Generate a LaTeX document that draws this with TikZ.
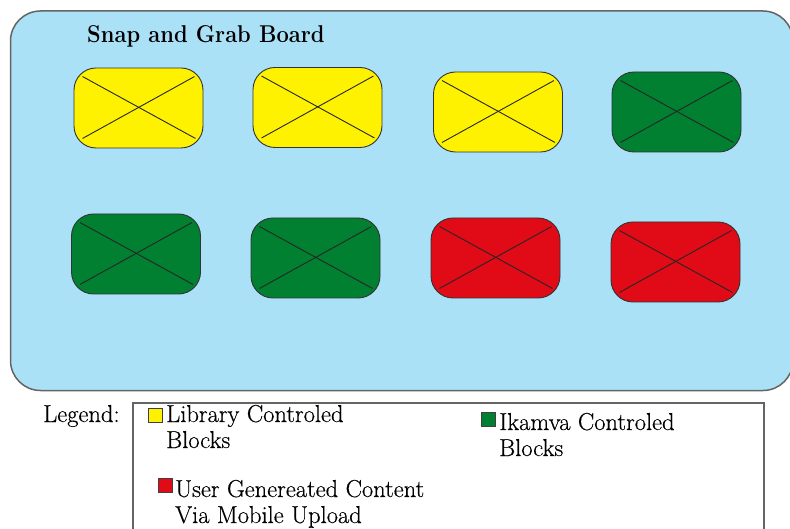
\documentclass[tikz,border=0pt]{standalone}
\usepackage{fontspec}
\setmainfont{Latin Modern Roman}[FakeStretch=0.9]
\newfontfamily\legendfont{Latin Modern Roman}[FakeBold=0.4]
\usetikzlibrary{calc}
\definecolor{boardblue}{RGB}{170,225,247}
\definecolor{libyellow}{RGB}{255,242,0}
\definecolor{ikgreen}{RGB}{0,128,48}
\definecolor{ugcred}{RGB}{225,10,23}
\definecolor{edgegray}{RGB}{100,100,100}
\begin{document}
\begin{tikzpicture}[x=1pt,y=-1pt,
  block/.style={draw=black!80, line width=0.9pt, rounded corners=22pt,
    minimum width=129pt, minimum height=80pt, inner sep=0pt},
  cross/.style={draw=black!85, line width=0.9pt},
  swatch/.style={draw=black!75, line width=0.6pt, minimum size=14pt, inner sep=0pt},
  legtext/.style={anchor=base west, inner sep=0pt, font=\legendfont\fontsize{24.5}{26}\selectfont}]
\useasboundingbox (0,0) rectangle (790,529);

% board background
\node[draw=edgegray, line width=1.5pt, fill=boardblue, rounded corners=30pt,
  minimum width=782.5pt, minimum height=379.5pt, inner sep=0pt] (board) at (401.75,200.75) {};
\node[anchor=base west, inner sep=0pt, font=\rmfamily\bfseries\fontsize{24.3}{30}\selectfont] (title) at (87,43) {Snap and Grab Board};

% blocks, first row
\node[block, fill=libyellow] (y1) at (138.5,108) {};
\node[block, fill=libyellow] (y2) at (317.5,107.5) {};
\node[block, fill=libyellow] (y3) at (498,112) {};
\node[block, fill=ikgreen]   (g1) at (676.5,112) {};
% blocks, second row
\node[block, fill=ikgreen]   (g2) at (136,254) {};
\node[block, fill=ikgreen]   (g3) at (315.5,258) {};
\node[block, fill=ugcred]    (r1) at (495.5,258) {};
\node[block, fill=ugcred]    (r2) at (675.5,262) {};

% crossed-out placeholders
\foreach \n in {y1,y2,y3,g1,g2,g3,r1,r2}{
  \draw[cross] ($(\n.north west)+(9,9)$) -- ($(\n.south east)+(-8,-10)$);
  \draw[cross] ($(\n.north east)+(-9,9)$) -- ($(\n.south west)+(9,-10)$);
}

% legend
\node[legtext] (leglabel) at (43,422) {Legend:};
\node[draw=edgegray, line width=1.3pt, minimum width=631pt, minimum height=157pt,
  inner sep=0pt] (legbox) at (448.5,481.5) {};

\node[swatch, fill=libyellow] (swy) at (155.5,415) {};
\node[legtext] (liby) at (166,422) {\begin{tabular}[t]{@{}l@{}}Library Controled\\Blocks\end{tabular}};

\node[swatch, fill=ikgreen] (swg) at (488.5,419.5) {};
\node[legtext] (ikg) at (499,430) {\begin{tabular}[t]{@{}l@{}}Ikamva Controled\\Blocks\end{tabular}};

\node[swatch, fill=ugcred] (swr) at (165.5,485.5) {};
\node[legtext] (ugc) at (175,497) {\begin{tabular}[t]{@{}l@{}}User Genereated Content\\Via Mobile Upload\end{tabular}};
\end{tikzpicture}
\end{document}
